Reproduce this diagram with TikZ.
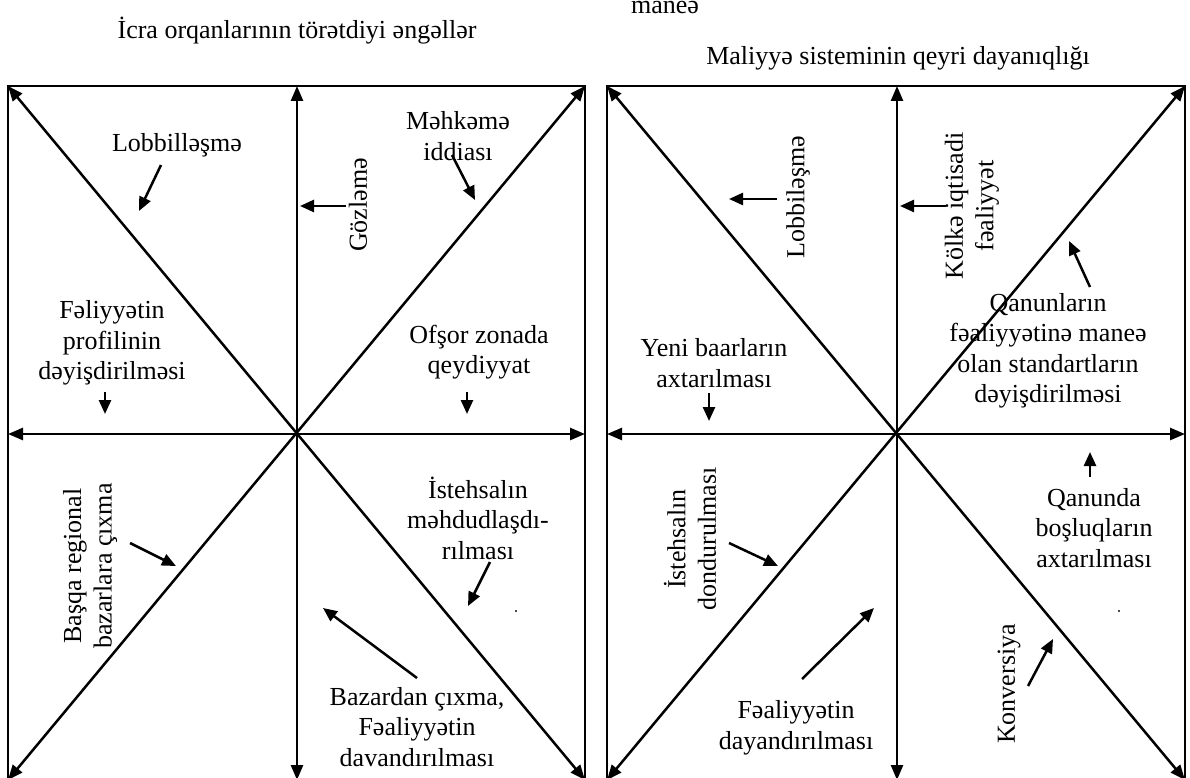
\documentclass[tikz,border=0pt]{standalone}
\usepackage{fontspec}
\setmainfont{Liberation Serif}
\usetikzlibrary{arrows.meta}
\begin{document}
\begin{tikzpicture}[x=1pt,y=-1pt,
  frame/.style={line width=2.5pt},
  axis/.style={line width=2.5pt,{Triangle[length=15pt,width=12pt]}-{Triangle[length=15pt,width=12pt]}},
  pointer/.style={line width=2.5pt,-{Triangle[length=14pt,width=12pt]}},
  lbl/.style={font=\fontsize{26}{30.5}\selectfont,align=center,inner sep=0pt},
  speck/.style={fill=black!70,inner sep=0pt,minimum size=2.2pt},
]
\useasboundingbox (0,0) rectangle (1190,778);

% ---------- left panel: obstacles created by executive bodies ----------
\coordinate (LTL) at (8,86);   \coordinate (LTR) at (585,86);
\coordinate (LBL) at (8,780);  \coordinate (LBR) at (585,780);
\coordinate (LC)  at (297,434);
\coordinate (LT)  at (297,86); \coordinate (LB)  at (297,780);
\coordinate (LL)  at (8,434);  \coordinate (LR)  at (585,434);

\draw[frame] (LBL) -- (LTL) -- (LTR) -- (LBR);
\draw[axis] (LL) -- (LR);
\draw[axis] (LT) -- (LB);
\draw[axis] (LTL) -- (LBR);
\draw[axis] (LTR) -- (LBL);

\node[lbl] (t1) at (297,31) {İcra orqanlarının törətdiyi əngəllər};
\node[lbl] (l1) at (177,145) {Lobbilləşmə};
\node[lbl,rotate=90] (l2) at (358,205) {Gözləmə};
\node[lbl] (l3) at (458,136) {Məhkəmə\\iddiası};
\node[lbl] (l4) at (112,343) {Fəliyyətin\\profilinin\\dəyişdirilməsi};
\node[lbl] (l5) at (479,352) {Ofşor zonada\\qeydiyyat};
\node[lbl,rotate=90] (l6) at (90,566) {Başqa regional\\bazarlara çıxma};
\node[lbl] (l7) at (478,518) {İstehsalın\\məhdudlaşdı-\\rılması};
\node[lbl] (l8) at (417,727) {Bazardan çıxma,\\Fəaliyyətin\\davandırılması};

\coordinate (a1) at (161,165); \coordinate (b1) at (139,211);
\coordinate (a2) at (346,206); \coordinate (b2) at (300,206);
\coordinate (a3) at (452,155); \coordinate (b3) at (475,200);
\coordinate (a4) at (105,392); \coordinate (b4) at (105,414);
\coordinate (a5) at (467,392); \coordinate (b5) at (467,414);
\coordinate (a6) at (130,543); \coordinate (b6) at (176,566);
\coordinate (a7) at (490,562); \coordinate (b7) at (468,606);
\coordinate (a8) at (417,678); \coordinate (b8) at (323,608);
\foreach \i in {1,...,8} \draw[pointer] (a\i) -- (b\i);

\node[speck] (s1) at (516,611) {};

% ---------- right panel: instability of the financial system ----------
\coordinate (RTL) at (607,86);  \coordinate (RTR) at (1185,86);
\coordinate (RBL) at (607,780); \coordinate (RBR) at (1185,780);
\coordinate (RC)  at (897,434);
\coordinate (RT)  at (897,86);  \coordinate (RB)  at (897,780);
\coordinate (RL)  at (607,434); \coordinate (RR)  at (1185,434);

\draw[frame] (RBL) -- (RTL) -- (RTR) -- (RBR);
\draw[axis] (RL) -- (RR);
\draw[axis] (RT) -- (RB);
\draw[axis] (RTL) -- (RBR);
\draw[axis] (RTR) -- (RBL);

\node[lbl,anchor=base] (t2) at (665,14) {maneə};
\node[lbl] (t3) at (898,58) {Maliyyə sisteminin qeyri dayanıqlığı};
\node[lbl,rotate=90] (r1) at (798,197) {Lobbiləşmə};
\node[lbl,rotate=90] (r2) at (972,206) {Kölkə iqtisadi\\fəaliyyət};
\node[lbl] (r3) at (1048,351) {Qanunların\\fəaliyyətinə maneə\\olan standartların\\dəyişdirilməsi};
\node[lbl] (r4) at (714,363) {Yeni baarların\\axtarılması};
\node[lbl] (r5) at (1094,528) {Qanunda\\boşluqların\\axtarılması};
\node[lbl,rotate=90] (r6) at (690,539) {İstehsalın\\dondurulması};
\node[lbl] (r7) at (796,728) {Fəaliyyətin\\dayandırılması};
\node[lbl,rotate=90] (r8) at (1009,684) {Konversiya};

\coordinate (c1) at (777,199);  \coordinate (d1) at (729,199);
\coordinate (c2) at (946,206);  \coordinate (d2) at (900,206);
\coordinate (c3) at (1090,287); \coordinate (d3) at (1069,241);
\coordinate (c4) at (709,393);  \coordinate (d4) at (709,421);
\coordinate (c5) at (1090,477); \coordinate (d5) at (1090,452);
\coordinate (c6) at (729,543);  \coordinate (d6) at (778,566);
\coordinate (c7) at (802,679);  \coordinate (d7) at (874,608);
\coordinate (c8) at (1028,686); \coordinate (d8) at (1053,639);
\foreach \i in {1,...,8} \draw[pointer] (c\i) -- (d\i);

\node[speck] (s2) at (1119,611) {};
\end{tikzpicture}
\end{document}
